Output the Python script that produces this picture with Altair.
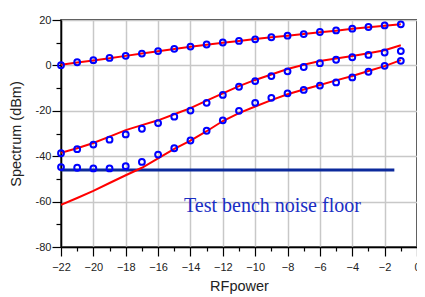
import altair as alt
import pandas as pd

# RF input power (dBm)
rf = list(range(-22, 0))

# measured (blue circles)
meas_fund = [0.1, 1.4, 2.3, 3.3, 4.2, 5.2, 6.3, 7.3, 8.3, 9.2, 10.1, 10.8,
             11.5, 12.4, 13.1, 13.8, 14.7, 15.4, 16.2, 16.9, 17.6, 18.1]
meas_mid = [-38.7, -36.9, -34.9, -32.7, -30.4, -27.9, -25.4, -22.6, -19.9, -16.5, -13.0, -9.4,
            -6.9, -4.7, -2.6, -0.7, 1.0, 2.5, 3.6, 4.6, 5.7, 6.3]
meas_low = [-44.8, -45.1, -45.4, -45.4, -44.4, -42.5, -39.3, -36.5, -33.1, -28.8, -24.2, -20.0,
            -16.5, -14.3, -12.3, -10.8, -8.9, -7.5, -5.3, -2.8, -0.2, 2.0]

# simulated (red lines)
sim_fund = [0.3, 1.3, 2.2, 3.2, 4.2, 5.2, 6.2, 7.2, 8.2, 9.1, 10.0, 10.8,
            11.6, 12.4, 13.1, 13.8, 14.6, 15.3, 16.1, 16.8, 17.5, 18.1]
sim_mid = [-38.5, -36.5, -34.2, -31.4, -28.5, -26.3, -24.2, -21.5, -18.8, -15.5, -12.3, -9.1,
           -6.4, -4.0, -1.6, 0.3, 1.9, 3.0, 4.1, 5.4, 6.7, 8.9]
sim_low = [-61.4, -58.4, -55.3, -51.8, -48.4, -45.1, -41.0, -36.8, -33.1, -29.0, -24.5, -21.0,
           -18.1, -15.3, -12.7, -10.6, -8.6, -6.6, -4.7, -2.5, -0.3, 2.3]

noise_floor = -46.1
noise_x = [-22, -1.4]
label_text = ["Test bench noise floor"]
label_x = [-14.4]
label_y = [-64.5]

x_ticks = list(range(-22, 1))
y_ticks = list(range(-80, 21, 10))

series_names = ["fund", "mid", "low"]
meas = [meas_fund, meas_mid, meas_low]
sims = [sim_fund, sim_mid, sim_low]

rows_m, rows_s = [], []
for name, m, s in zip(series_names, meas, sims):
    for x, vm, vs in zip(rf, m, s):
        rows_m.append({"x": x, "y": vm, "s": name})
        rows_s.append({"x": x, "y": vs, "s": name})
df_m = pd.DataFrame(rows_m)
df_s = pd.DataFrame(rows_s)
df_noise = pd.DataFrame({"x": [noise_x[0]], "x2": [noise_x[1]], "y": [noise_floor]})
df_text = pd.DataFrame({"x": label_x, "y": label_y, "t": label_text})

xscale = alt.Scale(domain=[-22, 0], nice=False, zero=False)
yscale = alt.Scale(domain=[-80, 20], nice=False, zero=False)

xaxis = alt.Axis(
    values=x_ticks,
    labelExpr="abs(datum.value) % 2 < 0.5 ? format(datum.value, 'd') : ''",
    labelOverlap=False, labelFlush=False, labelBound=False,
    tickSize={"condition": {"test": "abs(datum.value) % 2 < 0.5", "value": 9}, "value": 4},
    gridOpacity={"condition": {"test": "abs(datum.value) % 2 < 0.5", "value": 1}, "value": 0},
    title="RFpower", titlePadding=7, labelPadding=5,
)
yaxis = alt.Axis(
    values=y_ticks,
    labelExpr="datum.value % 20 === 0 ? '' + datum.value : ''",
    labelOverlap=False, labelFlush=False,
    tickSize={"condition": {"test": "datum.value % 20 === 0", "value": 9}, "value": 5},
    gridOpacity={"condition": {"test": "datum.value % 20 === 0", "value": 1}, "value": 0},
    title="Spectrum (dBm)", titlePadding=12, labelPadding=1,
)

X = alt.X("x:Q", scale=xscale, axis=xaxis)
Y = alt.Y("y:Q", scale=yscale, axis=yaxis)

noise = alt.Chart(df_noise).mark_rule(color="#0c2a9c", strokeWidth=3).encode(
    x=X, x2="x2:Q", y=Y
)
lines = alt.Chart(df_s).mark_line(color="#ff0000", strokeWidth=2, clip=True).encode(
    x=X, y=Y, detail="s:N",
)
points = alt.Chart(df_m).mark_point(
    shape="circle", filled=False, color="#0000ff", size=34, strokeWidth=2, opacity=1
).encode(x=X, y=Y)
text = alt.Chart(df_text).mark_text(
    align="left", baseline="alphabetic", font="Liberation Serif", fontSize=20, color="#1a2ec4"
).encode(x=X, y=Y, text="t:N")

chart = (
    alt.layer(noise, lines, points, text)
    .properties(width=356, height=227, autosize=alt.AutoSizeParams(type="none"),
                padding={"left": 53, "top": 12, "right": 0, "bottom": 50})
    .configure_view(stroke="#000000", strokeWidth=1.5)
    .configure_axis(
        labelOverlap=False,
        domainColor="#000000", domainWidth=1.5, tickColor="#000000", tickWidth=1.2,
        gridColor="#c8c8c8", gridWidth=1.5,
        labelFont="Liberation Sans", labelFontSize=11, labelColor="#222222",
        titleFont="Liberation Sans", titleFontSize=14.5, titleFontWeight="normal",
        titleColor="#222222",
    )
)
chart.save("out.html", embed_options={"renderer": "svg", "actions": False})
